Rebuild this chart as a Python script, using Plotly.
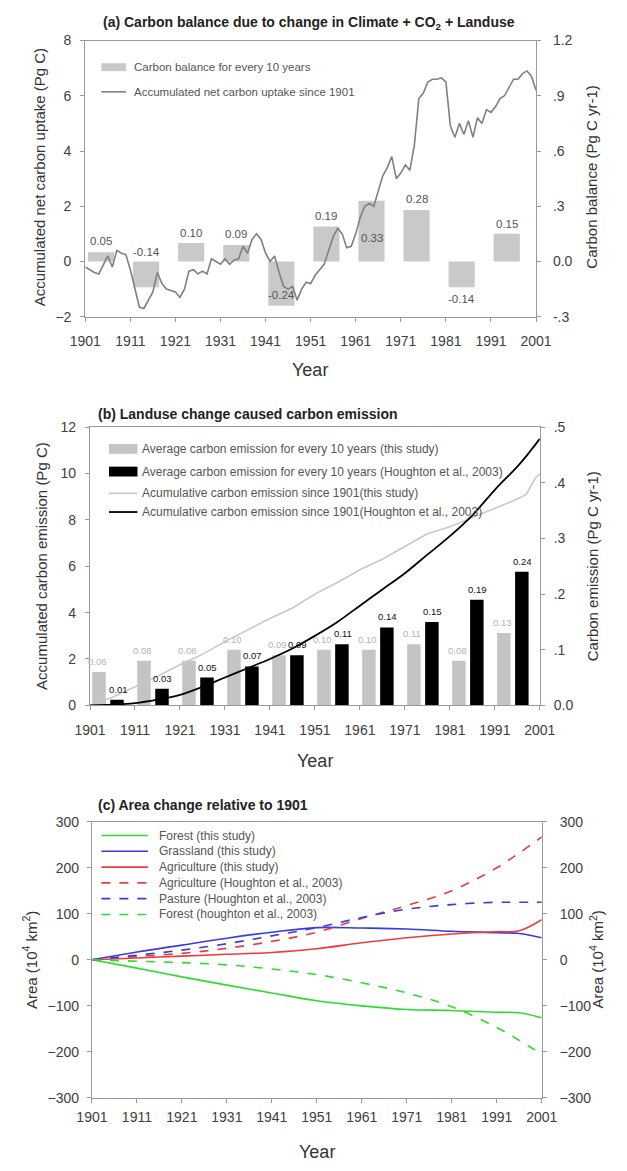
import plotly.graph_objects as go

W, H = 627, 1171
FONT = "Liberation Sans, Arial, sans-serif"

# ---------------- (a) carbon balance ----------------
decade_start = [1901, 1911, 1921, 1931, 1941, 1951, 1961, 1971, 1981, 1991]
balance_10yr = [0.05, -0.14, 0.10, 0.09, -0.24, 0.19, 0.33, 0.28, -0.14, 0.15]

uptake_years = list(range(1901, 2002))
net_uptake = [
    -0.2, -0.3, -0.4, -0.45, -0.1, 0.2, -0.2, 0.4, 0.3, 0.25,
    -0.3, -1.0, -1.65, -1.7, -1.4, -1.1, -0.4, -0.8, -1.0, -1.05,
    -1.1, -1.3, -1.0, -0.35, -0.3, -0.45, -0.35, -0.45, 0.1, 0.0,
    -0.1, 0.1, -0.1, 0.05, 0.1, 0.55, 0.3, 0.8, 1.0, 0.8,
    0.3, 0.0, 0.2, -0.4, -0.9, -1.0, -0.9, -1.4, -1.0, -0.75,
    -0.8, -0.5, -0.3, -0.1, 0.4, 0.9, 1.2, 1.0, 0.5, 0.55,
    1.0, 1.6, 2.0, 2.1, 2.0, 2.6, 3.1, 3.4, 3.8, 3.0,
    3.2, 3.5, 3.3, 4.2, 5.9, 6.1, 6.5, 6.6, 6.6, 6.65,
    6.5, 4.9, 4.5, 5.0, 4.6, 5.1, 4.5, 5.2, 5.0, 5.5,
    5.4, 5.6, 5.9, 6.0, 6.3, 6.6, 6.6, 6.8, 6.9, 6.7,
    6.2,
]

# ---------------- (b) land-use emission ----------------
emis_this = [0.06, 0.08, 0.08, 0.10, 0.09, 0.10, 0.10, 0.11, 0.08, 0.13]
emis_houghton = [0.01, 0.03, 0.05, 0.07, 0.09, 0.11, 0.14, 0.15, 0.19, 0.24]

cum_years = [1901, 1906, 1911, 1916, 1921, 1926, 1931, 1936, 1941, 1946, 1951,
             1956, 1961, 1966, 1971, 1976, 1981, 1986, 1991, 1996, 1998, 2000, 2001]
cum_this = [0.0, 0.35, 0.8, 1.25, 1.75, 2.2, 2.75, 3.25, 3.75, 4.2, 4.8,
            5.3, 5.85, 6.3, 6.85, 7.4, 7.7, 8.1, 8.5, 8.9, 9.1, 9.8, 10.0]
cum_houghton = [0.0, 0.03, 0.1, 0.25, 0.45, 0.8, 1.2, 1.6, 2.0, 2.45, 3.0,
                3.6, 4.3, 5.0, 5.7, 6.5, 7.3, 8.2, 9.3, 10.3, 10.75, 11.25, 11.5]

# ---------------- (c) area change ----------------
area_years = [1901, 1911, 1921, 1931, 1941, 1951, 1961, 1971, 1981, 1991, 1996, 2001]
forest_this = [0, -18, -37, -55, -72, -89, -100, -108, -110, -114, -115, -126]
grass_this = [0, 17, 32, 47, 60, 70, 69, 67, 62, 59, 57, 48]
agri_this = [0, 4, 8, 12, 16, 24, 37, 48, 56, 61, 63, 87]
agri_houghton = [0, 7, 14, 25, 40, 60, 90, 118, 150, 200, 232, 267]
pasture_houghton = [0, 10, 21, 35, 52, 70, 92, 110, 120, 125, 125, 125]
forest_houghton = [0, -3, -6, -11, -20, -32, -50, -72, -102, -147, -175, -205]

year_ticks = list(range(1901, 2002, 10))


def px(x):
    return x / W


def py(y):
    return 1 - y / H


fig = go.Figure()

# (a) bars on the right-hand axis, accumulated line on the left-hand axis
fig.add_trace(go.Bar(
    x=[s + 3.5 for s in decade_start], y=balance_10yr, width=5.8,
    marker=dict(color="#c9c9c9", line=dict(width=0)),
    name="Carbon balance for every 10 years", showlegend=False,
    xaxis="x", yaxis="y"))
fig.add_trace(go.Scatter(
    x=uptake_years, y=net_uptake, mode="lines",
    line=dict(color="#808080", width=1.6),
    name="Accumulated net carbon uptake since 1901", showlegend=False,
    xaxis="x", yaxis="y2"))

# (b)
fig.add_trace(go.Bar(
    x=[s + 2.0 for s in decade_start], y=emis_this, width=3.0,
    marker=dict(color="#c4c4c4", line=dict(width=0)),
    name="Average carbon emission for every 10 years (this study)", showlegend=False,
    xaxis="x2", yaxis="y3"))
fig.add_trace(go.Bar(
    x=[s + 6.0 for s in decade_start], y=emis_houghton, width=3.0,
    marker=dict(color="#000000", line=dict(width=0)),
    name="Average carbon emission for every 10 years (Houghton et al., 2003)", showlegend=False,
    xaxis="x2", yaxis="y3"))
fig.add_trace(go.Scatter(
    x=cum_years, y=cum_this, mode="lines",
    line=dict(color="#c8c8c8", width=1.6),
    name="Acumulative carbon emission since 1901(this study)", showlegend=False,
    xaxis="x2", yaxis="y4"))
fig.add_trace(go.Scatter(
    x=cum_years, y=cum_houghton, mode="lines", line_shape="spline",
    line=dict(color="#000000", width=1.8),
    name="Acumulative carbon emission since 1901(Houghton et al., 2003)", showlegend=False,
    xaxis="x2", yaxis="y4"))

# (c)
GREEN, BLUE, RED = "#2edc2e", "#3a3ae0", "#ee3b3b"
area_series = [
    ("Forest (this study)", forest_this, GREEN, "solid"),
    ("Grassland (this study)", grass_this, BLUE, "solid"),
    ("Agriculture (this study)", agri_this, RED, "solid"),
    ("Agriculture (Houghton et al., 2003)", agri_houghton, RED, "dash"),
    ("Pasture (Houghton et al., 2003)", pasture_houghton, BLUE, "dash"),
    ("Forest (houghton et al., 2003)", forest_houghton, GREEN, "dash"),
]
for name, vals, col, dash in area_series:
    fig.add_trace(go.Scatter(
        x=area_years, y=vals, mode="lines", line_shape="spline",
        line=dict(color=col, width=1.6, dash=dash),
        name=name, showlegend=False, xaxis="x3", yaxis="y5"))
# mirrored scale on the right of panel (c)
fig.add_trace(go.Scatter(
    x=area_years, y=forest_this, mode="lines", line=dict(width=0),
    opacity=0, hoverinfo="skip", showlegend=False, xaxis="x3", yaxis="y6"))

AX = "#9a9a9a"
tickfont = dict(family=FONT, size=14, color="#404040")


def xax(domain, anchor, standoff):
    return dict(domain=domain, anchor=anchor, range=[1901, 2001],
                tickvals=year_ticks, ticks="outside", ticklen=4, tickcolor=AX,
                showline=True, linecolor=AX, linewidth=1.2, mirror=True,
                showgrid=False, zeroline=False, tickfont=tickfont,
                ticklabelstandoff=standoff)


def yax(rng, side, tickvals, ticktext=None, domain=None, overlaying=None,
        anchor=None, standoff=4):
    d = dict(range=rng, side=side, tickvals=tickvals, ticks="outside",
             ticklen=4, tickcolor=AX, showline=True, linecolor=AX,
             linewidth=1.2, showgrid=False, zeroline=False, tickfont=tickfont,
             ticklabelstandoff=standoff)
    if ticktext is not None:
        d["ticktext"] = ticktext
    if domain is not None:
        d["domain"] = domain
    if overlaying is not None:
        d["overlaying"] = overlaying
    if anchor is not None:
        d["anchor"] = anchor
    return d


layout = dict(
    width=W, height=H, margin=dict(l=0, r=0, t=0, b=0),
    paper_bgcolor="white", plot_bgcolor="white", showlegend=False,
    barmode="overlay", font=dict(family=FONT, color="#333"),
    xaxis=xax([px(73), px(548)], "y", 7),
    yaxis=yax([-0.3, 1.2], "right", [-0.3, 0, 0.3, 0.6, 0.9, 1.2],
              ["-.3", "0.0", ".3", ".6", ".9", "1.2"],
              domain=[py(313), py(33)], anchor="x", standoff=9),
    yaxis2=yax([-2, 8], "left", [-2, 0, 2, 4, 6, 8], overlaying="y",
               anchor="x", standoff=6),
    xaxis2=xax([px(78), px(552)], "y3", 8),
    yaxis3=yax([0, 0.5], "right", [0, 0.1, 0.2, 0.3, 0.4, 0.5],
               ["0.0", ".1", ".2", ".3", ".4", ".5"],
               domain=[py(707), py(425)], anchor="x2", standoff=6),
    yaxis4=yax([0, 12], "left", [0, 2, 4, 6, 8, 10, 12], overlaying="y3",
               anchor="x2", standoff=6),
    xaxis3=xax([px(80), px(554)], "y5", 2),
    yaxis5=yax([-300, 300], "left", list(range(-300, 301, 100)),
               domain=[py(1105), py(825)], anchor="x3", standoff=5),
    yaxis6=yax([-300, 300], "right", list(range(-300, 301, 100)),
               overlaying="y5", anchor="x3", standoff=10),
)
fig.update_layout(**layout)

ann = []
shapes = []


def text(x, y, s, size=12, bold=False, angle=0, xanchor="center", color="#333"):
    ann.append(dict(xref="paper", yref="paper", x=px(x), y=py(y), text=s,
                    showarrow=False, textangle=angle, xanchor=xanchor,
                    yanchor="middle",
                    font=dict(family=FONT, size=size, color=color,
                              weight="bold" if bold else "normal")))


# panel titles
text(309, 15, "(a) Carbon balance due to change in Climate + CO<sub>2</sub> + Landuse",
     size=14, bold=True, color="#222")
text(84, 412, "(b) Landuse change caused carbon emission", size=14, bold=True,
     xanchor="left", color="#222")
text(84, 808, "(c) Area change relative to 1901", size=14, bold=True,
     xanchor="left", color="#222")

# axis titles
text(310, 367, "Year", size=18)
text(315, 763, "Year", size=18)
text(317, 1160, "Year", size=18)
text(25, 172, "Accumulated net carbon uptake (Pg C)", size=15, angle=-90)
text(607, 172, "Carbon balance (Pg C yr-1)", size=15, angle=-90)
text(27, 566, "Accumulated carbon emission (Pg C)", size=15, angle=-90)
text(607, 566, "Carbon emission (Pg C yr-1)", size=15, angle=-90)
text(15, 965, "Area (10<sup>4</sup> km<sup>2</sup>)", size=15, angle=-90)
text(612, 965, "Area (10<sup>4</sup> km<sup>2</sup>)", size=15, angle=-90)

# value labels, panel (a)
label_shift_a = [11, 35, 10, 11, 11, 11, -37, 11, -12, 10]
for s, v, sh in zip(decade_start, balance_10yr, label_shift_a):
    ann.append(dict(xref="x", yref="y", x=s + 3.5, y=v, yshift=sh,
                    text=f"{v:.2f}", showarrow=False, yanchor="middle",
                    font=dict(family=FONT, size=11.5, color="#555")))

# value labels, panel (b): grey (this study) nudged left, black nudged right
for s, v in zip(decade_start, emis_this):
    ann.append(dict(xref="x2", yref="y3", x=s + 2.0, y=v, yshift=3, xshift=-1.5,
                    text=f"{v:.2f}", showarrow=False, yanchor="bottom",
                    font=dict(family=FONT, size=9.5, color="#b4b4b4")))
for s, v in zip(decade_start, emis_houghton):
    ann.append(dict(xref="x2", yref="y3", x=s + 6.0, y=v, yshift=3, xshift=1,
                    text=f"{v:.2f}", showarrow=False, yanchor="bottom",
                    font=dict(family=FONT, size=9.5, color="#111")))


# legends
def legend_entry(kind, color, label, y, x0, x1, xt, h=8, dash="solid",
                 width=1.6, size=12):
    if kind == "bar":
        shapes.append(dict(type="rect", xref="paper", yref="paper",
                           x0=px(x0), x1=px(x1), y0=py(y + h / 2), y1=py(y - h / 2),
                           fillcolor=color, line=dict(width=0)))
    else:
        shapes.append(dict(type="line", xref="paper", yref="paper",
                           x0=px(x0), x1=px(x1), y0=py(y), y1=py(y),
                           line=dict(color=color, width=width, dash=dash)))
    text(xt, y, label, size=size, xanchor="left", color="#555")


legend_entry("bar", "#c9c9c9", "Carbon balance for every 10 years", 60, 90, 116, 122,
             size=11.5)
legend_entry("line", "#808080", "Accumulated net carbon uptake since 1901", 85, 90, 116, 122,
             size=11.5)

legend_entry("bar", "#c4c4c4", "Average carbon emission for every 10 years (this study)",
             447, 98, 128, 131, h=10)
legend_entry("bar", "#000000", "Average carbon emission for every 10 years (Houghton et al., 2003)",
             470, 98, 128, 131, h=10)
legend_entry("line", "#c8c8c8", "Acumulative carbon emission since 1901(this study)",
             492, 98, 128, 131)
legend_entry("line", "#000000", "Acumulative carbon emission since 1901(Houghton et al., 2003)",
             511, 98, 128, 131, width=1.8)

for i, (name, vals, col, dash) in enumerate(area_series):
    legend_entry("line", col, name, 839 + 16 * i, 90, 139, 149, dash=dash)

fig.update_layout(annotations=ann, shapes=shapes)
fig.write_html("out.html")
